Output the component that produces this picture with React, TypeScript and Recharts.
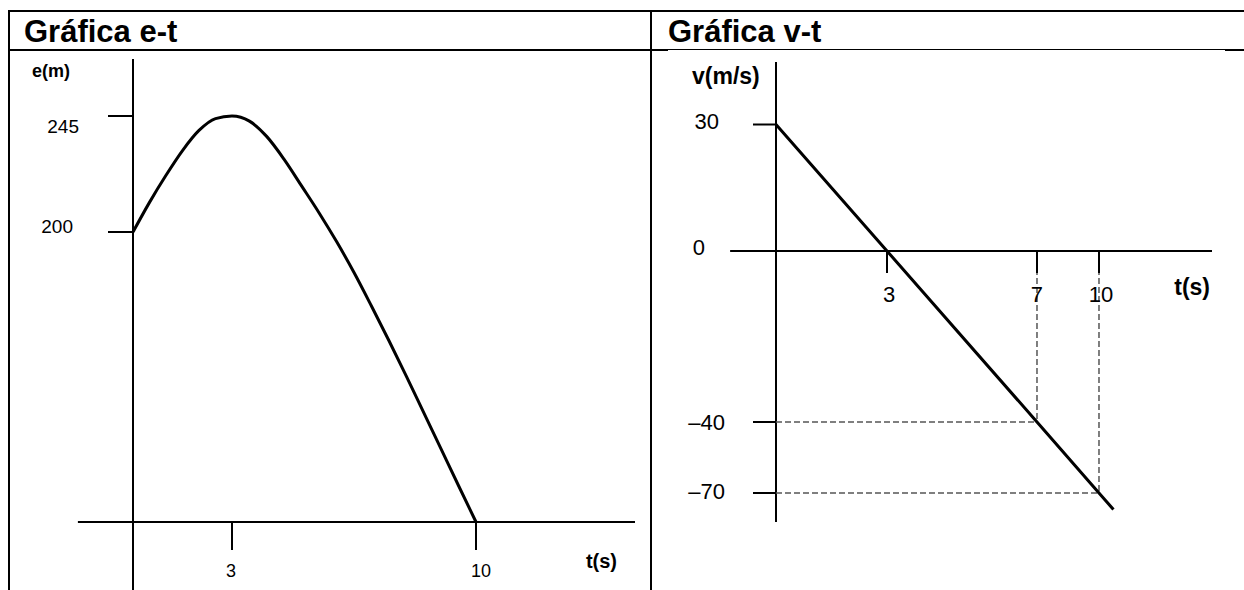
import { LineChart, Line, XAxis, YAxis, ReferenceLine } from "recharts";

// Gráfica e-t: position (m) against time (s)
const eTimes = [0, 0.5, 1, 1.5, 2, 2.5, 3, 3.5, 4, 4.5, 5, 5.5, 6, 6.5, 7, 7.5, 8, 8.5, 9, 9.5, 10];
const ePositions = [200, 211.5, 222, 231.6, 239.4, 244, 245, 243, 237, 228.1, 217.8, 207.4, 193.4, 172.1, 149, 125.2, 100.6, 75.4, 50.2, 25, 0];
const eTimeTicks = [3, 10];
const ePositionTicks = [200, 245];

// Gráfica v-t: velocity (m/s) against time (s)
const vTimes = [0, 3, 7, 10, 10.7];
const vSpeeds = [30, 0, -40, -70, -77];
const vTimeTicks = [3, 7, 10];
const vSpeedTicks = [30, 0, -40, -70];
// dashed guides from the t axis down to the line and across to the v axis
const guideTimes = [7, 10];
const guideSpeeds = [-40, -70];

const INK = "#000";
const FONT = 'Arial, "Liberation Sans", Helvetica, sans-serif';

// the sketches are not drawn to scale, so each axis gets a piecewise linear
// scale: knots (data values) and where they sit as a fraction of the plot range
function brokenScale(knots: number[], fracs: number[]) {
  let dom: number[] = [knots[0], knots[knots.length - 1]];
  let rng: number[] = [0, 1];
  const toFrac = (v: number) => {
    let i = 0;
    while (i < knots.length - 2 && v > knots[i + 1]) i++;
    const k = (v - knots[i]) / (knots[i + 1] - knots[i]);
    return fracs[i] + k * (fracs[i + 1] - fracs[i]);
  };
  const scale: any = (v: number) => rng[0] + toFrac(Number(v)) * (rng[1] - rng[0]);
  scale.domain = (d?: number[]) => {
    if (!d) return dom.slice();
    dom = [...d];
    return scale;
  };
  scale.range = (r?: number[]) => {
    if (!r) return rng.slice();
    rng = [...r];
    return scale;
  };
  scale.copy = () => brokenScale(knots, fracs).domain(dom).range(rng);
  scale.ticks = () => knots.slice();
  return scale;
}

const eTimeScale = brokenScale([0, 3, 10, 14.56], [0, 0.1972, 0.6833, 1]);
const ePosScale = brokenScale([0, 200, 245, 267], [0, 0.6263, 0.8769, 1]);
const vTimeScale = brokenScale([0, 3, 7, 10, 15.47], [0, 0.2546, 0.5986, 0.7408, 1]);
const vSpeedScale = brokenScale([-70, -40, 0, 30, 44.8], [-1.2804, -0.9048, 0, 0.6693, 1]);

// where the drawn axis lines end, beyond the plot area
const eAxisStartT = -1.67;
const eAxisEndE = -50;
const vAxisStartT = -1.24;
const vAxisEndV = -82.3;

function tickLabel(size: number, vertical: "top" | "middle", nudge: Record<number, [number, number]> = {}) {
  return (props: any) => {
    const { x, y, payload, textAnchor } = props;
    const [dx, dy] = nudge[payload.value] ?? [0, 0];
    const base = vertical === "top" ? y + size * 0.72 : y + size * 0.36;
    return (
      <text x={x + dx} y={base + dy} textAnchor={textAnchor} fontSize={size} fontFamily={FONT} fill={INK}>
        {String(payload.value).replace("-", "\u2013")}
      </text>
    );
  };
}

function axisTitle(text: string, size: number, fromRight: boolean, dx: number, dy: number) {
  return ({ viewBox }: any) => {
    if (!viewBox) return null;
    const x0 = fromRight ? viewBox.x + viewBox.width : viewBox.x;
    return (
      <text
        x={x0 + dx}
        y={viewBox.y + dy}
        textAnchor={fromRight ? "end" : "start"}
        fontSize={size}
        fontWeight="bold"
        fontFamily={FONT}
        fill={INK}
      >
        {text}
      </text>
    );
  };
}

const axisStroke = { stroke: INK, strokeWidth: 2 };

function Rule({ style }: { style: React.CSSProperties }) {
  return <div style={{ position: "absolute", background: INK, ...style }} />;
}

export default function App() {
  const eData = eTimes.map((t, i) => ({ t, e: ePositions[i] }));
  const vData = vTimes.map((t, i) => ({ t, v: vSpeeds[i] }));

  const titleStyle: React.CSSProperties = {
    position: "absolute",
    top: 17,
    fontSize: 31,
    lineHeight: "30px",
    fontWeight: "bold",
    color: INK,
    fontFamily: FONT,
    whiteSpace: "nowrap",
  };

  return (
    <div
      style={{
        position: "fixed",
        left: 0,
        top: 0,
        width: 1244,
        height: 590,
        overflow: "hidden",
        background: "#fff",
        fontFamily: FONT,
      }}
    >
      {/* table frame */}
      <Rule style={{ left: 8, top: 10, width: 1236, height: 2 }} />
      <Rule style={{ left: 8, top: 10, width: 2, height: 580 }} />
      <Rule style={{ left: 650, top: 10, width: 2, height: 580 }} />
      <Rule style={{ left: 8, top: 49, width: 660, height: 2 }} />
      <Rule style={{ left: 668, top: 49, width: 557, height: 1 }} />
      <Rule style={{ left: 1225, top: 49, width: 19, height: 2 }} />

      <div style={{ ...titleStyle, left: 24 }}>Gráfica e-t</div>
      <div style={{ ...titleStyle, left: 668 }}>Gráfica v-t</div>

      <div style={{ position: "absolute", left: 0, top: 0 }}>
        <LineChart width={650} height={590} data={eData} margin={{ top: 59, right: 15, bottom: 8, left: 73 }}>
          <XAxis
            type="number"
            dataKey="t"
            domain={[0, 14.56]}
            scale={eTimeScale}
            ticks={eTimeTicks}
            interval={0}
            height={60}
            tickSize={28}
            tickMargin={14}
            axisLine={axisStroke}
            tickLine={axisStroke}
            tick={tickLabel(18, "top", { 3: [-1, 0], 10: [5, 0] })}
            label={{ value: "t(s)", content: axisTitle("t(s)", 20, true, -18, 46) }}
          />
          <YAxis
            type="number"
            dataKey="e"
            domain={[0, 267]}
            scale={ePosScale}
            ticks={ePositionTicks}
            interval={0}
            width={60}
            tickSize={25}
            tickMargin={28}
            axisLine={axisStroke}
            tickLine={axisStroke}
            tick={tickLabel(19, "middle", { 245: [-1, 10], 200: [-7, -6] })}
            label={{ value: "e(m)", content: axisTitle("e(m)", 18, false, -41, 18) }}
          />
          <ReferenceLine
            segment={[{ x: eAxisStartT, y: 0 }, { x: 0, y: 0 }]}
            ifOverflow="visible"
            stroke={INK}
            strokeWidth={2}
          />
          <ReferenceLine
            segment={[{ x: 0, y: 0 }, { x: 0, y: eAxisEndE }]}
            ifOverflow="visible"
            stroke={INK}
            strokeWidth={2}
          />
          <Line
            type="monotone"
            dataKey="e"
            stroke={INK}
            strokeWidth={3}
            dot={false}
            activeDot={false}
            isAnimationActive={false}
          />
        </LineChart>
      </div>

      <div style={{ position: "absolute", left: 650, top: 0 }}>
        <LineChart width={594} height={590} data={vData} margin={{ top: 62, right: 32, bottom: 279, left: 66 }}>
          <XAxis
            type="number"
            dataKey="t"
            domain={[0, 15.47]}
            scale={vTimeScale}
            ticks={vTimeTicks}
            interval={0}
            height={60}
            tickSize={22}
            tickMargin={13}
            axisLine={axisStroke}
            tickLine={axisStroke}
            tick={tickLabel(22, "top", { 3: [2, 0], 10: [2, 0] })}
            label={{ value: "t(s)", content: axisTitle("t(s)", 23, true, -2, 44) }}
          />
          <YAxis
            type="number"
            dataKey="v"
            domain={[0, 44.8]}
            scale={vSpeedScale}
            ticks={vSpeedTicks}
            interval={0}
            width={60}
            tickSize={23}
            tickMargin={30}
            axisLine={axisStroke}
            tickLine={axisStroke}
            tick={tickLabel(22, "middle", { 30: [-4, -3], 0: [-18, -4], [-40]: [2, 0], [-70]: [2, -2] })}
            label={{ value: "v(m/s)", content: axisTitle("v(m/s)", 23, false, -24, 22) }}
          />
          <ReferenceLine
            segment={[{ x: vAxisStartT, y: 0 }, { x: 0, y: 0 }]}
            ifOverflow="visible"
            stroke={INK}
            strokeWidth={2}
          />
          <ReferenceLine
            segment={[{ x: 0, y: 0 }, { x: 0, y: vAxisEndV }]}
            ifOverflow="visible"
            stroke={INK}
            strokeWidth={2}
          />
          {guideTimes.map((gt, i) => (
            <ReferenceLine
              key={`gv-${gt}`}
              segment={[{ x: gt, y: 0 }, { x: gt, y: guideSpeeds[i] }]}
              ifOverflow="visible"
              stroke="#555"
              strokeWidth={1.5}
              strokeDasharray="6 3"
            />
          ))}
          {guideTimes.map((gt, i) => (
            <ReferenceLine
              key={`gh-${gt}`}
              segment={[{ x: 0, y: guideSpeeds[i] }, { x: gt, y: guideSpeeds[i] }]}
              ifOverflow="visible"
              stroke="#555"
              strokeWidth={1.5}
              strokeDasharray="6 3"
            />
          ))}
          <Line
            type="linear"
            dataKey="v"
            stroke={INK}
            strokeWidth={3}
            dot={false}
            activeDot={false}
            isAnimationActive={false}
          />
        </LineChart>
      </div>
    </div>
  );
}
